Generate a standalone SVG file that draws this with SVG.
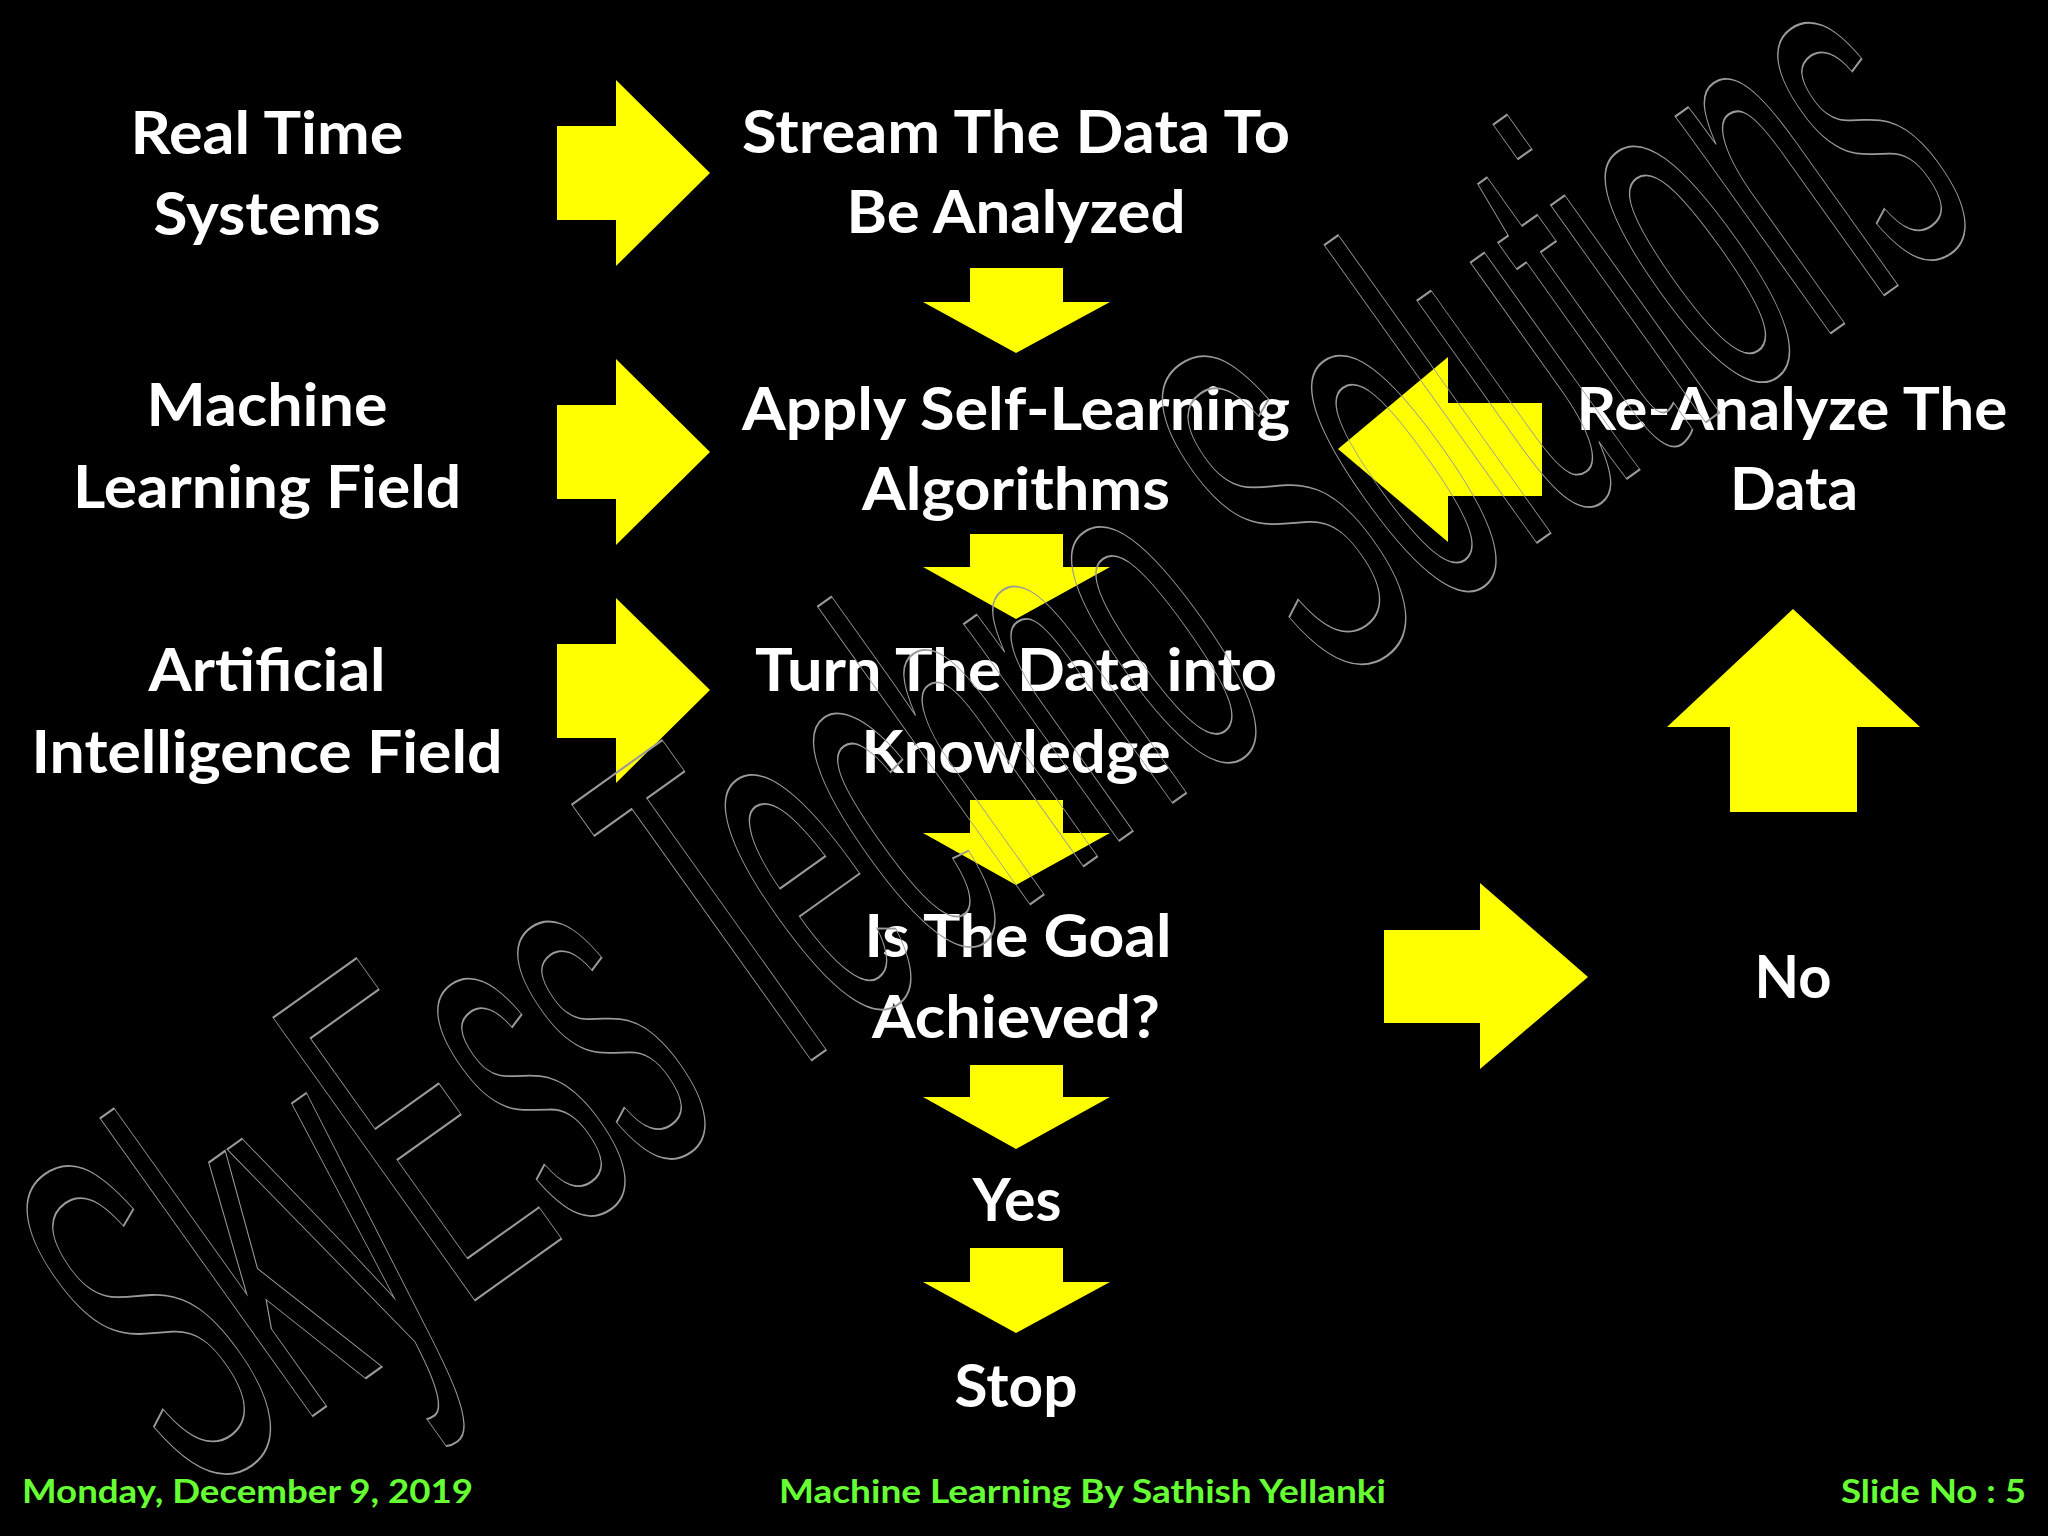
<svg xmlns="http://www.w3.org/2000/svg" width="2048" height="1536" viewBox="0 0 2048 1536">
<style>
.t{font-family:Lato,"Open Sans","Liberation Sans",sans-serif;font-weight:bold;font-size:60px;fill:#ffffff;text-anchor:middle}
.ar{fill:#ffff00}
.ft{font-family:Lato,"Open Sans","Liberation Sans",sans-serif;font-weight:bold;font-size:33px;fill:#66ff33}
.wm{font-family:"Liberation Sans",Arial,sans-serif;font-size:495px;fill:none;stroke:#9a9a9a;stroke-width:1.6}
</style>
<rect x="0" y="0" width="2048" height="1536" fill="#000000"/>
<g id="connectors">
  <polygon class="ar" points="557,126 616,126 616,80 710,173 616,266 616,220 557,220"/>
  <polygon class="ar" points="557,405 616,405 616,359 710,452 616,545 616,499 557,499"/>
  <polygon class="ar" points="557,644 616,644 616,598 710,690 616,783 616,738 557,738"/>
  <polygon class="ar" points="970,268 1063,268 1063,302 1110,302 1016,353 923,302 970,302"/>
  <polygon class="ar" points="970,534 1063,534 1063,567 1110,567 1016,619 923,567 970,567"/>
  <polygon class="ar" points="970,800 1063,800 1063,833 1110,833 1016,885 923,833 970,833"/>
  <polygon class="ar" points="970,1065 1063,1065 1063,1097 1110,1097 1016,1149 923,1097 970,1097"/>
  <polygon class="ar" points="970,1248 1063,1248 1063,1282 1110,1282 1016,1333 923,1282 970,1282"/>
  <polygon class="ar" points="1542,403 1542,496 1448,496 1448,542 1338,449 1448,357 1448,403"/>
  <polygon class="ar" points="1384,930 1480,930 1480,883 1588,977 1480,1069 1480,1023 1384,1023"/>
  <polygon class="ar" points="1730,812 1730,727 1667,727 1793,609 1920,727 1857,727 1857,812"/>
</g>
<g id="real-time-systems">
  <text class="t" x="267" y="154" textLength="273" lengthAdjust="spacingAndGlyphs">Real Time</text>
  <text class="t" x="267" y="235" textLength="227" lengthAdjust="spacingAndGlyphs">Systems</text>
</g>
<g id="machine-learning-field">
  <text class="t" x="267" y="426" textLength="241" lengthAdjust="spacingAndGlyphs">Machine</text>
  <text class="t" x="267" y="508" textLength="388" lengthAdjust="spacingAndGlyphs">Learning Field</text>
</g>
<g id="ai-field">
  <text class="t" x="267" y="691" textLength="237" lengthAdjust="spacingAndGlyphs">Artificial</text>
  <text class="t" x="267" y="773" textLength="471" lengthAdjust="spacingAndGlyphs">Intelligence Field</text>
</g>
<g id="stream-data">
  <text class="t" x="1016" y="153" textLength="548" lengthAdjust="spacingAndGlyphs">Stream The Data To</text>
  <text class="t" x="1016" y="233" textLength="339" lengthAdjust="spacingAndGlyphs">Be Analyzed</text>
</g>
<g id="apply-algorithms">
  <text class="t" x="1016" y="430" textLength="548" lengthAdjust="spacingAndGlyphs">Apply Self-Learning</text>
  <text class="t" x="1016" y="510" textLength="308" lengthAdjust="spacingAndGlyphs">Algorithms</text>
</g>
<g id="reanalyze-data">
  <text class="t" x="1792" y="430" textLength="431" lengthAdjust="spacingAndGlyphs">Re-Analyze The</text>
  <text class="t" x="1794" y="510" textLength="128" lengthAdjust="spacingAndGlyphs">Data</text>
</g>
<g id="turn-knowledge">
  <text class="t" x="1016" y="691" textLength="522" lengthAdjust="spacingAndGlyphs">Turn The Data into</text>
  <text class="t" x="1016" y="773" textLength="309" lengthAdjust="spacingAndGlyphs">Knowledge</text>
</g>
<g id="goal-achieved">
  <text class="t" x="1018" y="957" textLength="307" lengthAdjust="spacingAndGlyphs">Is The Goal</text>
  <text class="t" x="1016" y="1038" textLength="288" lengthAdjust="spacingAndGlyphs">Achieved?</text>
</g>
<g id="no">
  <text class="t" x="1793" y="998" textLength="77" lengthAdjust="spacingAndGlyphs">No</text>
</g>
<g id="yes">
  <text class="t" x="1017" y="1221" textLength="89" lengthAdjust="spacingAndGlyphs">Yes</text>
</g>
<g id="stop">
  <text class="t" x="1016" y="1407" textLength="123" lengthAdjust="spacingAndGlyphs">Stop</text>
</g>
<g id="footer">
  <text class="ft" x="22" y="1503" textLength="451" lengthAdjust="spacingAndGlyphs">Monday, December 9, 2019</text>
  <text class="ft" x="779" y="1503" textLength="607" lengthAdjust="spacingAndGlyphs">Machine Learning By Sathish Yellanki</text>
  <text class="ft" x="1841" y="1503" textLength="185" lengthAdjust="spacingAndGlyphs">Slide No : 5</text>
</g>
<g id="watermark">
  <text class="wm" x="0" y="0" vector-effect="non-scaling-stroke" transform="translate(195,1500) rotate(-35.5) scale(0.397,1.02)">SkyEss Techno Solutions</text>
</g>
</svg>
